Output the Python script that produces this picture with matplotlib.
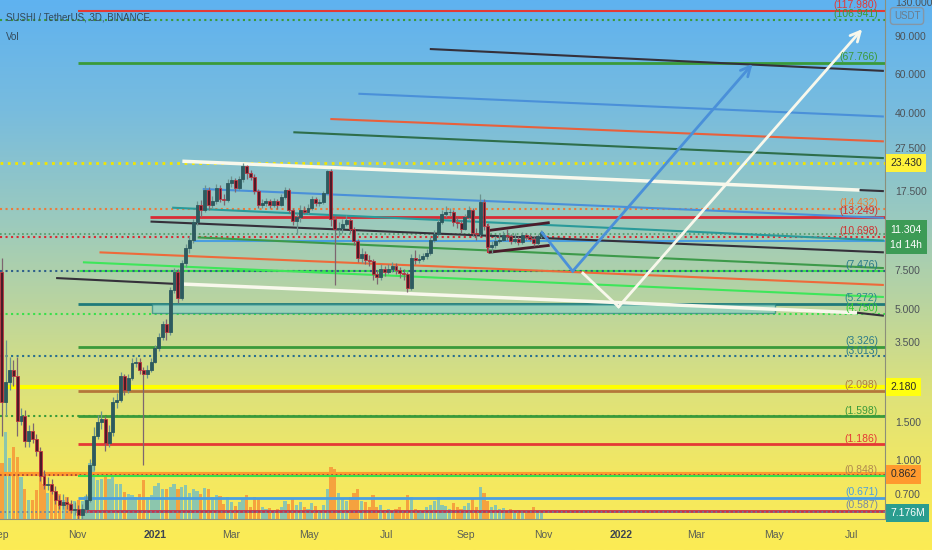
import numpy as np
import pandas as pd
import matplotlib
matplotlib.use('Agg')
import matplotlib.pyplot as plt
import matplotlib.dates as mdates
import matplotlib.transforms as mtransforms
from matplotlib.colors import LinearSegmentedColormap
from matplotlib.patches import Rectangle
from matplotlib.ticker import FixedLocator, FuncFormatter, NullLocator

plt.rcParams['font.family'] = ['Liberation Sans', 'DejaVu Sans']

# SUSHI/USDT 3D candles, starting 2020-09-01
start = '2020-09-01'
closes = [
    1.85, 2.3, 2.6, 2.45, 1.52, 1.6, 1.23, 1.36, 1.25, 1.1,
    0.85, 0.77, 0.78, 0.72, 0.66, 0.62, 0.64, 0.63, 0.59, 0.6,
    0.56, 0.6, 0.66, 0.95, 1.3, 1.5, 1.55, 1.2, 1.35, 1.85,
    1.9, 2.45, 2.12, 2.4, 2.8, 2.85, 2.6, 2.5, 2.6, 2.85,
    3.3, 3.7, 4.25, 3.9, 6.1, 7.4, 5.6, 8.1, 9.5, 10.4,
    12.6, 15.0, 14.2, 17.7, 15.0, 15.6, 18.0, 16.0, 15.8, 19.0,
    19.5, 18.0, 19.7, 22.8, 21.0, 20.3, 17.4, 15.0, 15.3, 15.6,
    15.0, 15.6, 15.0, 16.3, 17.7, 14.3, 12.7, 13.2, 14.3, 14.0,
    14.5, 16.0, 15.3, 15.5, 17.0, 21.5, 12.9, 11.6, 11.8, 12.3,
    12.8, 11.6, 10.2, 8.6, 8.9, 8.4, 8.3, 7.2, 7.0, 7.6,
    7.4, 7.6, 7.9, 7.5, 7.3, 7.2, 6.2, 8.6, 8.4, 8.5,
    8.7, 9.0, 10.4, 11.0, 12.6, 13.6, 14.0, 14.0, 12.5, 12.4,
    11.7, 13.2, 14.3, 11.2, 11.0, 15.5, 12.0, 9.6, 9.8, 10.3,
    10.4, 10.9, 10.8, 10.2, 10.5, 10.1, 10.9, 10.7, 10.5, 10.0,
    10.8, 11.304]
highs = [
    8.6, 3.6, 3.0, 2.9, 3.0, 1.75, 1.7, 1.45, 1.48, 1.32,
    1.15, 0.9, 0.84, 0.82, 0.76, 0.69, 0.7, 0.68, 0.66, 0.64,
    0.62, 0.63, 0.7, 1.02, 1.42, 1.62, 1.68, 1.6, 1.45, 1.95,
    2.05, 2.55, 2.5, 2.5, 2.95, 3.0, 2.95, 2.7, 2.75, 2.95,
    3.4, 3.85, 4.4, 4.5, 6.3, 7.7, 7.6, 8.4, 9.9, 10.8,
    13.0, 15.6, 15.8, 18.5, 18.2, 16.5, 18.8, 18.5, 16.8, 19.8,
    20.5, 20.0, 20.4, 23.4, 23.0, 21.8, 20.8, 17.8, 16.0, 16.2,
    16.0, 16.1, 16.0, 16.8, 18.2, 18.0, 14.6, 13.8, 15.0, 14.8,
    15.2, 16.5, 16.4, 16.0, 17.5, 21.8, 22.0, 13.5, 12.5, 13.0,
    13.5, 13.2, 11.9, 10.5, 9.5, 9.2, 8.8, 8.5, 7.5, 8.0,
    7.9, 8.0, 8.2, 8.1, 7.8, 7.6, 7.4, 8.9, 9.3, 8.9,
    9.0, 9.4, 10.7, 11.5, 13.0, 14.2, 14.8, 14.6, 14.3, 13.2,
    12.8, 13.6, 14.8, 14.5, 11.8, 16.8, 16.0, 12.4, 10.3, 10.8,
    11.0, 11.4, 11.6, 11.0, 11.2, 10.8, 11.3, 11.2, 11.0, 10.8,
    11.1, 11.5]
lows = [
    1.3, 1.6, 2.1, 2.2, 1.3, 1.45, 1.15, 1.15, 1.2, 1.05,
    0.8, 0.74, 0.73, 0.7, 0.63, 0.6, 0.6, 0.6, 0.57, 0.56,
    0.5, 0.52, 0.57, 0.64, 0.9, 1.25, 1.4, 1.1, 1.15, 1.3,
    1.75, 1.85, 2.0, 2.05, 2.35, 2.7, 2.5, 0.95, 2.4, 2.55,
    2.8, 3.2, 3.6, 3.6, 3.8, 5.9, 5.3, 5.5, 7.8, 9.0,
    10.0, 12.2, 13.2, 14.0, 14.2, 14.5, 15.2, 15.5, 15.0, 15.5,
    18.2, 17.2, 17.6, 19.2, 19.8, 19.5, 16.8, 14.5, 14.6, 14.8,
    14.5, 14.7, 14.4, 14.8, 16.0, 13.8, 12.2, 11.0, 12.6, 13.6,
    13.7, 14.2, 14.8, 14.9, 15.2, 16.8, 12.0, 6.4, 10.8, 11.2,
    12.0, 11.2, 9.8, 8.2, 8.1, 8.0, 7.9, 6.8, 6.5, 6.8,
    7.1, 7.2, 7.4, 7.2, 6.9, 6.8, 6.0, 6.1, 8.0, 8.1,
    8.3, 8.5, 8.8, 10.1, 10.8, 12.3, 13.2, 13.4, 12.0, 11.8,
    11.2, 11.5, 13.0, 10.8, 10.4, 10.8, 11.5, 9.2, 9.0, 9.5,
    10.0, 10.2, 10.4, 9.9, 10.0, 9.8, 9.9, 10.4, 10.2, 9.7,
    9.8, 10.6]
opens = [7.4] + closes[:-1]
# volume in millions
volumes = [
    67, 104, 73, 86, 74, 50, 36, 23, 23, 35,
    50, 42, 31, 34, 24, 30, 23, 26, 19, 22,
    23, 22, 28, 67, 64, 47, 48, 56, 48, 54,
    42, 42, 32, 30, 29, 26, 30, 47, 26, 29,
    40, 43, 36, 36, 38, 42, 36, 38, 41, 31,
    36, 34, 30, 37, 36, 26, 29, 28, 18, 26,
    20, 16, 20, 24, 29, 14, 26, 24, 14, 12,
    13, 11, 12, 14, 22, 18, 25, 17, 20, 14,
    12, 19, 16, 11, 17, 36, 62, 60, 31, 24,
    22, 26, 31, 36, 22, 20, 14, 29, 14, 17,
    11, 12, 10, 12, 14, 10, 29, 26, 12, 11,
    10, 14, 17, 22, 26, 17, 16, 12, 19, 14,
    12, 16, 19, 24, 14, 38, 31, 22, 14, 17,
    12, 13, 10, 12, 7, 11, 10, 8, 10, 14,
    7, 7.176]

# horizontal levels
level_price = [117.98, 106.941, 67.766, 23.43, 14.432, 13.249, 11.1, 10.698, 10.3,
               7.476, 7.476, 5.272, 4.75, 3.326, 3.013, 2.18, 2.098, 1.598, 1.598,
               1.186, 0.862, 0.855, 0.848, 0.671, 0.587, 0.58]
level_start = ['2020-11-01', '2020-09-01', '2020-11-01', '2020-09-01', '2020-09-01',
               '2020-12-28', '2020-09-01', '2020-09-01', '2021-01-30', '2020-11-03',
               '2020-09-01', '2020-11-01', '2020-09-01', '2020-11-01', '2020-09-01',
               '2020-09-01', '2020-11-01', '2020-09-01', '2020-11-01', '2020-11-01',
               '2020-09-01', '2020-09-01', '2020-11-01', '2020-11-01', '2020-11-01',
               '2020-09-01']
level_color = ['#e53935', '#3a9a3a', '#3a9a3a', '#f2e600', '#ee7a3a', '#d92b35',
               '#4f9a6a', '#d92b35', '#4a9ee0', '#39e04a', '#2f5f8a', '#1f7a7a',
               '#39e04a', '#3a9a3a', '#2a6f8f', '#ffff00', '#b5773a', '#3a9a3a',
               '#3a9a3a', '#e53935', '#ff9a2e', '#9a3a3a', '#39e04a', '#4a9ee0',
               '#c2334d', '#6a7fa0']
level_ls = ['-', ':', '-', ':', ':', '-', ':', ':', '-', '-', ':', '-', ':', '-', ':',
            '-', '-', ':', '-', '-', '-', ':', '-', '-', '-', ':']
level_lw = [1.5, 1.5, 2, 2, 1.5, 2, 1.2, 1.5, 1.5, 1.5, 1.5, 2, 1.5, 2, 1.5,
            3, 2, 1.5, 2, 2, 3, 1.2, 1.5, 2, 2, 1.2]

label_price = [117.98, 106.941, 67.766, 14.432, 13.249, 10.698, 7.476, 5.272, 4.75,
               3.326, 3.013, 2.098, 1.598, 1.186, 0.848, 0.671, 0.587]
label_color = ['#e53935', '#3a9a3a', '#3a9a3a', '#e8803c', '#d03030', '#d03030',
               '#2a7a8a', '#2a8a8a', '#33cc33', '#2a7a8a', '#2a7a8a', '#b07a40',
               '#3a9a3a', '#e53935', '#b08a50', '#4a9ee0', '#7a8aa0']

# sloped trend lines: start date, start price, end date, end price
trend_lines = [
    ('2021-08-04', 78.6, '2022-07-26', 62.3),
    ('2021-06-09', 48.9, '2022-07-26', 38.4),
    ('2021-05-18', 37.4, '2022-07-26', 29.5),
    ('2021-04-19', 32.5, '2022-07-26', 24.7),
    ('2021-01-22', 23.9, '2022-07-07', 17.6),
    ('2022-07-07', 17.6, '2022-07-26', 17.4),
    ('2021-02-07', 17.8, '2022-07-26', 13.1),
    ('2021-01-14', 14.6, '2022-07-26', 10.3),
    ('2020-12-28', 12.6, '2022-07-26', 9.09),
    ('2021-02-03', 10.65, '2022-07-26', 7.69),
    ('2020-11-18', 9.09, '2022-07-26', 6.43),
    ('2020-11-05', 8.18, '2022-07-26', 5.66),
    ('2020-10-15', 6.92, '2021-01-20', 6.49),
    ('2021-01-23', 6.49, '2022-07-05', 4.79),
    ('2022-07-05', 4.79, '2022-07-26', 4.64),
    ('2021-09-19', 11.46, '2021-11-06', 12.47),
    ('2021-09-19', 9.09, '2021-11-06', 9.79),
    ('2021-09-19', 12.3, '2021-09-19', 9.0),
]
trend_color = ['#35303a', '#4a90d9', '#e8603c', '#2e6e4a', '#f8f8ec', '#35303a',
               '#4a90d9', '#2a9a9a', '#35303a', '#3d9a4a', '#ee6a3a', '#3ee65a',
               '#35303a', '#f8f8ec', '#35303a', '#4a1d2b', '#4a1d2b', '#c0303a']
trend_lw = [1.5, 1.5, 1.5, 1.5, 2.5, 1.5, 1.5, 1.5, 1.5, 1.5, 1.5, 1.5,
            1.5, 2.5, 1.5, 2, 2, 1.5]

zone = ('2020-12-29', 4.77, '2022-05-02', 5.24)

blue_path_dates = ['2021-10-31', '2021-11-24', '2022-04-14']
blue_path_prices = [11.2, 7.44, 67.1]
white_path_dates = ['2021-12-02', '2021-12-30', '2022-07-09']
white_path_prices = [7.29, 5.10, 97.0]

tick_dates = ['2020-09-01', '2020-11-01', '2021-01-01', '2021-03-01', '2021-05-01',
              '2021-07-01', '2021-09-01', '2021-11-01', '2022-01-01', '2022-03-01',
              '2022-05-01', '2022-07-01']
tick_labels = ['Sep', 'Nov', '2021', 'Mar', 'May', 'Jul', 'Sep', 'Nov', '2022',
               'Mar', 'May', 'Jul']
price_ticks = [130, 90, 60, 40, 27.5, 17.5, 7.5, 5, 3.5, 1.5, 1.0, 0.7]


def dnum(s):
    return mdates.date2num(pd.Timestamp(s))


x_left = dnum(start)
x_right = x_left + 693.9
FS = 7.5

fig = plt.figure(figsize=(9.32, 5.5), dpi=100)

# gradient background
bg = fig.add_axes([0, 0, 1, 1], zorder=-10)
cmap = LinearSegmentedColormap.from_list('bg', [
    (0.0, '#5fb2f0'), (0.2, '#78bcde'), (0.4, '#9bcabe'), (0.55, '#b9d4a0'),
    (0.72, '#dee27a'), (0.86, '#f3e862'), (1.0, '#fcec54')])
bg.imshow(np.linspace(0, 1, 256).reshape(-1, 1), aspect='auto', cmap=cmap,
          extent=[0, 1, 0, 1])
bg.axis('off')

ax = fig.add_axes([0, 31 / 550, 885 / 932, 519 / 550])
vax = ax.twinx()
ax.set_zorder(vax.get_zorder() + 1)
ax.patch.set_visible(False)
vax.patch.set_visible(False)

t = mdates.date2num(pd.date_range(start, periods=len(closes), freq='3D')) + 1.5
o = np.array(opens)
c = np.array(closes)
up = c >= o

# volume
vax.bar(t, volumes, width=2.5, color=['#8cc6ad' if u else '#f5a23e' for u in up], zorder=1)
vax.set_ylim(0, 623)
vax.set_yticks([])
for s in vax.spines.values():
    s.set_visible(False)

# levels
for p, st, col, ls, lw in zip(level_price, level_start, level_color, level_ls, level_lw):
    ax.hlines(p, dnum(st), x_right, colors=col, linestyles=ls, linewidth=lw, zorder=2)

z0, zp0, z1, zp1 = zone
ax.add_patch(Rectangle((dnum(z0), zp0), dnum(z1) - dnum(z0), zp1 - zp0,
                       facecolor='#8fd0c4', edgecolor='#2f8a86', alpha=0.75, lw=1, zorder=2))

for (d0, p0, d1, p1), col, lw in zip(trend_lines, trend_color, trend_lw):
    ax.plot([dnum(d0), dnum(d1)], [p0, p1], color=col, lw=lw, zorder=4,
            solid_capstyle='butt')

# candles
ax.vlines(t, lows, highs, colors=['#6b938f' if u else '#7d6670' for u in up], lw=0.9, zorder=5)
ax.bar(t, np.abs(c - o), bottom=np.minimum(o, c), width=2.3,
       color=['#2d5a5f' if u else '#4a1c2a' for u in up],
       edgecolor=['#2d5a5f' if u else '#c0343f' for u in up], linewidth=0.6, zorder=6)

# projected paths
for dates, prices, col in [(blue_path_dates, blue_path_prices, '#4a90d9'),
                           (white_path_dates, white_path_prices, '#f8f8ec')]:
    xs = [dnum(d) for d in dates]
    ax.plot(xs[:2], prices[:2], color=col, lw=2, zorder=7)
    ax.annotate('', xy=(xs[2], prices[2]), xytext=(xs[1], prices[1]),
                arrowprops=dict(arrowstyle='->,head_length=0.7,head_width=0.35',
                                color=col, lw=2, shrinkA=0, shrinkB=0), zorder=7)

ax.set_xlim(x_left, x_right)
ax.set_yscale('log')
ax.set_ylim(0.537, 132.2)
ax.yaxis.tick_right()
ax.yaxis.set_major_locator(FixedLocator(price_ticks))
ax.yaxis.set_minor_locator(NullLocator())
ax.yaxis.set_major_formatter(FuncFormatter(lambda v, pos: f'{v:.3f}'))
ax.tick_params(axis='y', which='both', length=0, pad=7, labelsize=FS,
               labelcolor='#4d5358', right=True, left=False, labelright=True, labelleft=False)
ax.set_xticks([dnum(d) for d in tick_dates])
ax.set_xticklabels(tick_labels)
ax.tick_params(axis='x', length=0, pad=8, labelsize=FS, labelcolor='#5a5f55')
for lbl in ax.get_xticklabels():
    if lbl.get_text().isdigit():
        lbl.set_color('#3d4450')
        lbl.set_fontweight('bold')
for side in ['top', 'left']:
    ax.spines[side].set_visible(False)
ax.spines['right'].set_color('#8c8f7a')
ax.spines['bottom'].set_color('#8c8f7a')

blend = mtransforms.blended_transform_factory(ax.transAxes, ax.transData)

# level labels
for p, col in zip(label_price, label_color):
    ax.annotate(f'({p:.3f})', xy=(0.992, p), xycoords=blend, xytext=(0, 0.5),
                textcoords='offset points', ha='right', va='bottom',
                fontsize=FS, color=col, zorder=8)


# price boxes on the right scale
def price_box(axis, y, txt, fc, tc):
    tr = mtransforms.blended_transform_factory(axis.transAxes, axis.transData)
    axis.text(1.006, y, txt, transform=tr, ha='left', va='center', fontsize=FS,
              color=tc, clip_on=False, zorder=10,
              bbox=dict(boxstyle='square,pad=0.4', fc=fc, ec='none'))


price_box(ax, 23.43, '23.430', '#fff23a', '#2a2a2a')
price_box(ax, 2.18, '2.180', '#ffff10', '#2a2a2a')
price_box(ax, 0.862, '0.862', '#ff9a2e', '#2a2a2a')
price_box(vax, 7.176, '7.176M', '#2a9d8f', 'white')
ax.annotate(f'{closes[-1]:.3f}\n1d 14h', xy=(1.006, closes[-1]), xycoords=blend,
            xytext=(0, 5), textcoords='offset points', ha='left', va='top',
            fontsize=FS, color='white', linespacing=1.6, annotation_clip=False, zorder=10,
            bbox=dict(boxstyle='square,pad=0.45', fc='#3d9b56', ec='none'))

fig.text(6 / 932, 1 - 17 / 550, 'SUSHI / TetherUS, 3D, BINANCE', va='center',
         fontsize=7, color='#33495a')
fig.text(6 / 932, 1 - 37 / 550, 'Vol', va='center', fontsize=7, color='#33495a')
fig.text(907 / 932, 1 - 16 / 550, 'USDT', ha='center', va='center', fontsize=7,
         color='#6b7c8c', bbox=dict(boxstyle='round,pad=0.35', fc='none', ec='#8496a6', lw=1))

fig.savefig('out.png', dpi=100)
